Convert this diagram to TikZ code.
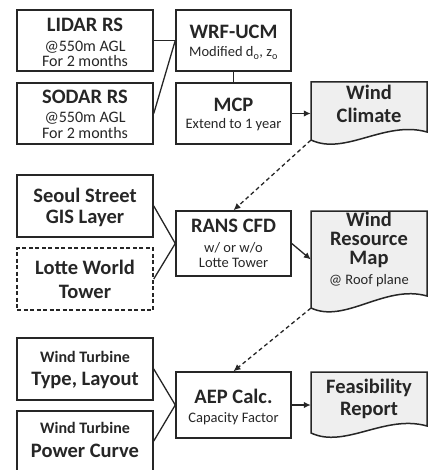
\documentclass[tikz,border=0pt]{standalone}
\usepackage{fontspec}
\setmainfont{Carlito}
\usetikzlibrary{arrows.meta}

\definecolor{ink}{HTML}{262626}
\definecolor{docfill}{HTML}{EFEFEF}

% font sizes used in the boxes
\newcommand\ttlfont{\fontsize{20.5}{22}\selectfont\bfseries}
\newcommand\midfont{\fontsize{16}{17}\selectfont\bfseries}
\newcommand\leftsubfont{\fontsize{16}{17}\selectfont}
\newcommand\subfont{\fontsize{14.5}{15}\selectfont}

% document shape with a wavy lower edge
% #1 left x, #2 top y, #3 right x, #4 left bottom y, #5 right bottom y
\newcommand\docshape[5]{%
  \draw[docbox] (#1,#2) -- (#3,#2) -- (#3,#5)
    .. controls ({#3-42},{#5-12}) and ({#1+34},{#4+16}) .. (#1,#4) -- cycle;}

\tikzset{
  box/.style={draw=ink, line width=1.5pt, inner sep=0pt},
  docbox/.style={draw=ink, fill=docfill, line width=1.5pt},
  anchorbox/.style={inner sep=0pt},
  ln/.style={anchor=base, inner sep=0pt, text=ink, text depth=0pt},
  link/.style={draw=ink, line width=1.3pt},
  arr/.style={link, -{Latex[length=7pt,width=6.5pt]}},
  darr/.style={arr, dash pattern=on 4pt off 3pt},
}

\begin{document}
\begin{tikzpicture}[x=1pt,y=-1pt]
\useasboundingbox (0,0) rectangle (440,470);
\clip (0,0) rectangle (440,470);

% ---- left column
\node[box, minimum width=136pt, minimum height=61pt] (lidar) at (85,40.5) {};
\node[box, minimum width=136pt, minimum height=61pt] (sodar) at (85,113.5) {};
\node[box, minimum width=136pt, minimum height=62pt] (seoul) at (85,206) {};
\node[box, dash pattern=on 4pt off 2.5pt, minimum width=136pt, minimum height=62pt] (lotte) at (85,279) {};
\node[box, minimum width=136pt, minimum height=62pt] (layout) at (85,369) {};
\node[box, minimum width=136pt, minimum height=60pt] (pcurve) at (85,441) {};

% ---- middle column
\node[box, minimum width=115pt, minimum height=61pt] (wrf) at (233.5,40.5) {};
\node[box, minimum width=115pt, minimum height=61pt] (mcp) at (233.5,113.5) {};
\node[box, minimum width=115pt, minimum height=65pt] (rans) at (233.5,243.5) {};
\node[box, minimum width=115pt, minimum height=66pt] (aep) at (233.5,405) {};

% ---- right column: documents
\docshape{311}{82}{427}{140}{132}
\docshape{311}{211}{427}{308}{296}
\docshape{311}{372}{427}{433}{426}
\node[anchorbox, minimum width=116pt, minimum height=58pt] (clim) at (369,111) {};
\node[anchorbox, minimum width=116pt, minimum height=97pt] (wrm) at (369,259.5) {};
\node[anchorbox, minimum width=116pt, minimum height=61pt] (feas) at (369,402.5) {};

% ---- texts, left column
\node[ln, font=\ttlfont] (lidarT) at (85,32) {LIDAR RS};
\node[ln, font=\leftsubfont] (lidarA) at (85,52) {@550m AGL};
\node[ln, font=\leftsubfont] (lidarB) at (85,67) {For 2 months};
\node[ln, font=\ttlfont] (sodarT) at (85,104) {SODAR RS};
\node[ln, font=\leftsubfont] (sodarA) at (85,123) {@550m AGL};
\node[ln, font=\leftsubfont] (sodarB) at (85,139) {For 2 months};
\node[ln, font=\ttlfont] (seoulA) at (85,202) {Seoul Street};
\node[ln, font=\ttlfont] (seoulB) at (85,223) {GIS Layer};
\node[ln, font=\ttlfont] (lotteA) at (85,274) {Lotte World};
\node[ln, font=\ttlfont] (lotteB) at (85,298) {Tower};
\node[ln, font=\midfont] (layoutA) at (85,362) {Wind Turbine};
\node[ln, font=\ttlfont] (layoutB) at (85,385) {Type, Layout};
\node[ln, font=\midfont] (pcurveA) at (85,433) {Wind Turbine};
\node[ln, font=\ttlfont] (pcurveB) at (85,457) {Power Curve};

% ---- texts, middle column
\node[ln, font=\ttlfont] (wrfT) at (233.5,39) {WRF-UCM};
\node[ln, font=\subfont] (wrfA) at (233.5,57) {Modified d\textsubscript{o}, z\textsubscript{o}};
\node[ln, font=\ttlfont] (mcpT) at (233.5,112) {MCP};
\node[ln, font=\subfont] (mcpA) at (233.5,129) {Extend to 1 year};
\node[ln, font=\ttlfont] (ransT) at (233.5,232) {RANS CFD};
\node[ln, font=\subfont] (ransA) at (233.5,252) {w/ or w/o};
\node[ln, font=\subfont] (ransB) at (233.5,267) {Lotte Tower};
\node[ln, font=\ttlfont] (aepT) at (233.5,403) {AEP Calc.};
\node[ln, font=\subfont] (aepA) at (233.5,422) {Capacity Factor};

% ---- texts, right column
\node[ln, font=\ttlfont] (climA) at (369,100) {Wind};
\node[ln, font=\ttlfont] (climB) at (369,123) {Climate};
\node[ln, font=\ttlfont] (wrmA) at (369,226) {Wind};
\node[ln, font=\ttlfont] (wrmB) at (369,245) {Resource};
\node[ln, font=\ttlfont] (wrmC) at (369,264) {Map};
\node[ln, font=\subfont] (wrmD) at (369,284) {@ Roof plane};
\node[ln, font=\ttlfont] (feasA) at (369,393) {Feasibility};
\node[ln, font=\ttlfont] (feasB) at (369,415) {Report};

% ---- connectors
\draw[link] (lidar.east) -- (wrf.west);
\draw[link] (sodar.east) -- (wrf.west);
\draw[link] (wrf.south) -- (mcp.north);
\draw[arr] (mcp.east) -- (mcp.east -| clim.west);
\draw[darr] (clim.south west) -- (rans.north);
\draw[link] (seoul.east) -- (rans.west);
\draw[link] (lotte.east) -- (rans.west);
\draw[arr] (rans.east) -- (wrm.west);
\draw[darr] (wrm.south west) -- (aep.north);
\draw[link] (layout.east) -- (aep.west);
\draw[link] (pcurve.east) -- (aep.west);
\draw[arr] (aep.east) -- (aep.east -| feas.west);
\end{tikzpicture}
\end{document}
